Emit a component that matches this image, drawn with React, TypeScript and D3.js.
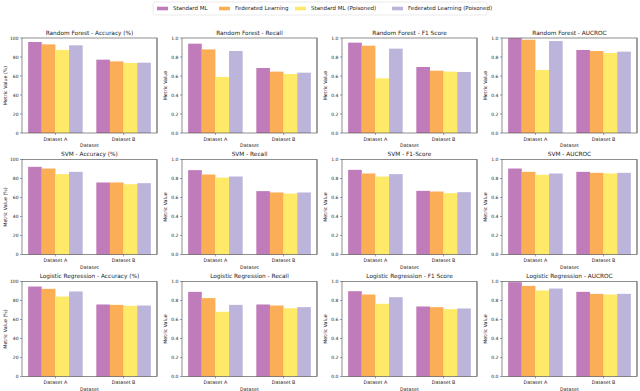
import * as d3 from "d3";

const W = 640;
const H = 391;

const series = [
  "Standard ML",
  "Federated Learning",
  "Standard ML (Poisoned)",
  "Federated Learning (Poisoned)",
];
const colors = ["#c07bba", "#fcae57", "#ffe968", "#bcb4db"];
const datasets = ["Dataset A", "Dataset B"];
const models = ["Random Forest", "SVM", "Logistic Regression"];
const metrics = ["Accuracy (%)", "Recall", "F1 Score", "AUCROC"];
const svmMetricNames = ["Accuracy (%)", "Recall", "F1-Score", "AUCROC"];

// values[series][dataset] per panel
const rfAccuracy = [[95.8, 77.2], [93.3, 75.4], [87.4, 73.7], [92.3, 74.0]];
const rfRecall = [[0.94, 0.684], [0.88, 0.646], [0.59, 0.621], [0.863, 0.635]];
const rfF1 = [[0.951, 0.695], [0.919, 0.656], [0.575, 0.646], [0.888, 0.642]];
const rfAuc = [[0.999, 0.874], [0.982, 0.863], [0.663, 0.842], [0.968, 0.856]];

const svmAccuracy = [[92.3, 75.8], [90.5, 75.8], [84.6, 74.0], [87.0, 75.1]];
const svmRecall = [[0.888, 0.667], [0.842, 0.653], [0.81, 0.642], [0.821, 0.653]];
const svmF1 = [[0.891, 0.67], [0.853, 0.663], [0.821, 0.646], [0.846, 0.656]];
const svmAuc = [[0.905, 0.87], [0.87, 0.86], [0.839, 0.853], [0.853, 0.86]];

const lrAccuracy = [[94.7, 75.8], [92.3, 75.4], [84.2, 74.4], [89.5, 74.7]];
const lrRecall = [[0.891, 0.758], [0.825, 0.747], [0.681, 0.719], [0.754, 0.73]];
const lrF1 = [[0.898, 0.737], [0.863, 0.73], [0.765, 0.709], [0.835, 0.716]];
const lrAuc = [[0.993, 0.891], [0.954, 0.87], [0.905, 0.863], [0.926, 0.87]];

const grid = [
  [rfAccuracy, rfRecall, rfF1, rfAuc],
  [svmAccuracy, svmRecall, svmF1, svmAuc],
  [lrAccuracy, lrRecall, lrF1, lrAuc],
];

const pw = 135;
const ph = 95;
const colX = [22, 182, 342, 502];
const rowY = [38, 159.5, 281.5];
const font = "DejaVu Sans, sans-serif";
const barW = 0.2;

function Panel({ r, c }: { r: number; c: number }) {
  const vals = grid[r][c];
  const pct = c === 0;
  const x = d3.scaleLinear().domain([-0.49, 1.49]).range([0, pw]);
  const y = d3.scaleLinear().domain([0, pct ? 100 : 1]).range([ph, 0]);
  const ticks = pct ? [0, 20, 40, 60, 80, 100] : [0, 0.2, 0.4, 0.6, 0.8, 1.0];
  const fmt = pct ? d3.format("d") : d3.format(".1f");
  const name = r === 1 ? svmMetricNames[c] : metrics[c];
  return (
    <g transform={`translate(${colX[c]},${rowY[r]})`}>
      {vals.map((sv, si) =>
        sv.map((v, di) => {
          const x0 = x(di + (si - 1.5) * barW - barW / 2);
          const x1 = x(di + (si - 1.5) * barW + barW / 2);
          return (
            <rect
              key={`${si}-${di}`}
              x={x0}
              y={y(v)}
              width={x1 - x0}
              height={ph - y(v)}
              fill={colors[si]}
            />
          );
        })
      )}
      <rect x={0} y={0} width={pw} height={ph} fill="none" stroke="#444" strokeWidth={0.6} />
      <line x1={pw} x2={pw} y1={0} y2={ph} stroke="#888" strokeWidth={1.2} />
      {ticks.map((t) => (
        <g key={t} transform={`translate(0,${y(t)})`}>
          <line x1={-2} x2={0} stroke="#444" strokeWidth={0.5} />
          <text x={-3.5} dy="0.35em" textAnchor="end" fontSize={4.5} fill="#222">
            {fmt(t)}
          </text>
        </g>
      ))}
      {datasets.map((d, i) => (
        <g key={d} transform={`translate(${x(i)},${ph})`}>
          <line y1={0} y2={2} stroke="#444" strokeWidth={0.5} />
          <text y={7.5} textAnchor="middle" fontSize={4.8} fill="#222">
            {d}
          </text>
        </g>
      ))}
      <text x={pw / 2} y={ph + 14} textAnchor="middle" fontSize={4.8} fill="#222">
        Dataset
      </text>
      <text
        transform={`translate(${-15},${ph / 2}) rotate(-90)`}
        textAnchor="middle"
        fontSize={4.8}
        fill="#222"
      >
        {pct ? "Metric Value (%)" : "Metric Value"}
      </text>
      <text x={pw / 2} y={-3.5} textAnchor="middle" fontSize={5.8} fill="#222">
        {`${models[r]} - ${name}`}
      </text>
    </g>
  );
}

const legendX = [157, 219, 295, 392];

export default function App() {
  return (
    <svg width={W} height={H} style={{ display: "block", position: "absolute", left: 0, top: 0 }} fontFamily={font}>
      <rect width={W} height={H} fill="#fff" />
      <rect x={153} y={2} width={334} height={13} fill="#fff" stroke="#ddd" strokeWidth={0.6} rx={1.5} />
      {series.map((s, i) => (
        <g key={s} transform={`translate(${legendX[i]},8.5)`}>
          <rect x={0} y={-1.8} width={11} height={3.6} fill={colors[i]} />
          <text x={16} dy="0.35em" fontSize={5.5} fill="#222">
            {s}
          </text>
        </g>
      ))}
      {models.map((_, r) => metrics.map((_, c) => <Panel key={`${r}-${c}`} r={r} c={c} />))}
    </svg>
  );
}
